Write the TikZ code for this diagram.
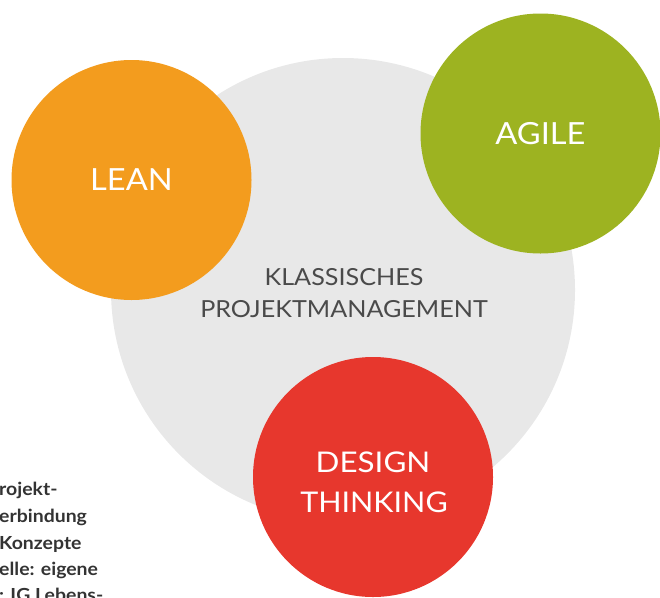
\documentclass[tikz,border=0pt]{standalone}
\usepackage{fontspec}
\setmainfont{Lato}
\newfontfamily\widelato[FakeStretch=1.07]{Lato}
\newfontfamily\widerlato[FakeStretch=1.1]{Lato}
\newfontfamily\notelato[FakeStretch=1.08]{Lato}
\definecolor{cgray}{HTML}{E8E8E8}
\definecolor{corange}{HTML}{F39C1E}
\definecolor{cgreen}{HTML}{9DB321}
\definecolor{cred}{HTML}{E7372D}
\definecolor{ctext}{HTML}{4A4A4A}
\definecolor{cnote}{HTML}{333333}
\tikzset{
  bigcircle/.style={circle, inner sep=0pt, draw=none, minimum size=#1},
  whitelabel/.style={anchor=base, text=white, inner sep=0pt},
  graylabel/.style={anchor=base, text=ctext, inner sep=0pt, font=\widelato\fontsize{23.5}{28}\selectfont},
  note/.style={anchor=base west, text=cnote, inner sep=0pt, font=\notelato\fontsize{18}{20}\bfseries\selectfont}
}
\begin{document}
\begin{tikzpicture}[x=1pt,y=-1pt]
\useasboundingbox (0,0) rectangle (660,597);
\node[bigcircle=464pt, fill=cgray] (pm) at (343,290) {};
\node[bigcircle=240pt, fill=corange] (lean) at (131.5,180) {};
\node[bigcircle=240pt, fill=cgreen] (agile) at (540.5,133.5) {};
\node[bigcircle=240pt, fill=cred] (dt) at (373,477) {};
\node[graylabel] (pm1) at (344,285) {KLASSISCHES};
\node[graylabel] (pm2) at (344,317) {PROJEKTMANAGEMENT};
\node[whitelabel, font=\widelato\fontsize{30.5}{36}\selectfont] (leant) at (131.5,190) {LEAN};
\node[whitelabel, font=\widelato\fontsize{30.5}{36}\selectfont] (agilet) at (540.5,144) {AGILE};
\node[whitelabel, font=\widerlato\fontsize{28.5}{36}\selectfont] (dt1) at (373,472) {DESIGN};
\node[whitelabel, font=\widelato\fontsize{28.5}{36}\selectfont] (dt2) at (374,512) {THINKING};
\node[note] (n1) at (-1,495) {rojekt-};
\node[note] (n2) at (-1,522) {erbindung};
\node[note] (n3) at (-1,549) {Konzepte};
\node[note] (n4) at (-1,575) {elle: eigene};
\node[note] (n5) at (-1,601) {: IG Lebens-};
\end{tikzpicture}
\end{document}
